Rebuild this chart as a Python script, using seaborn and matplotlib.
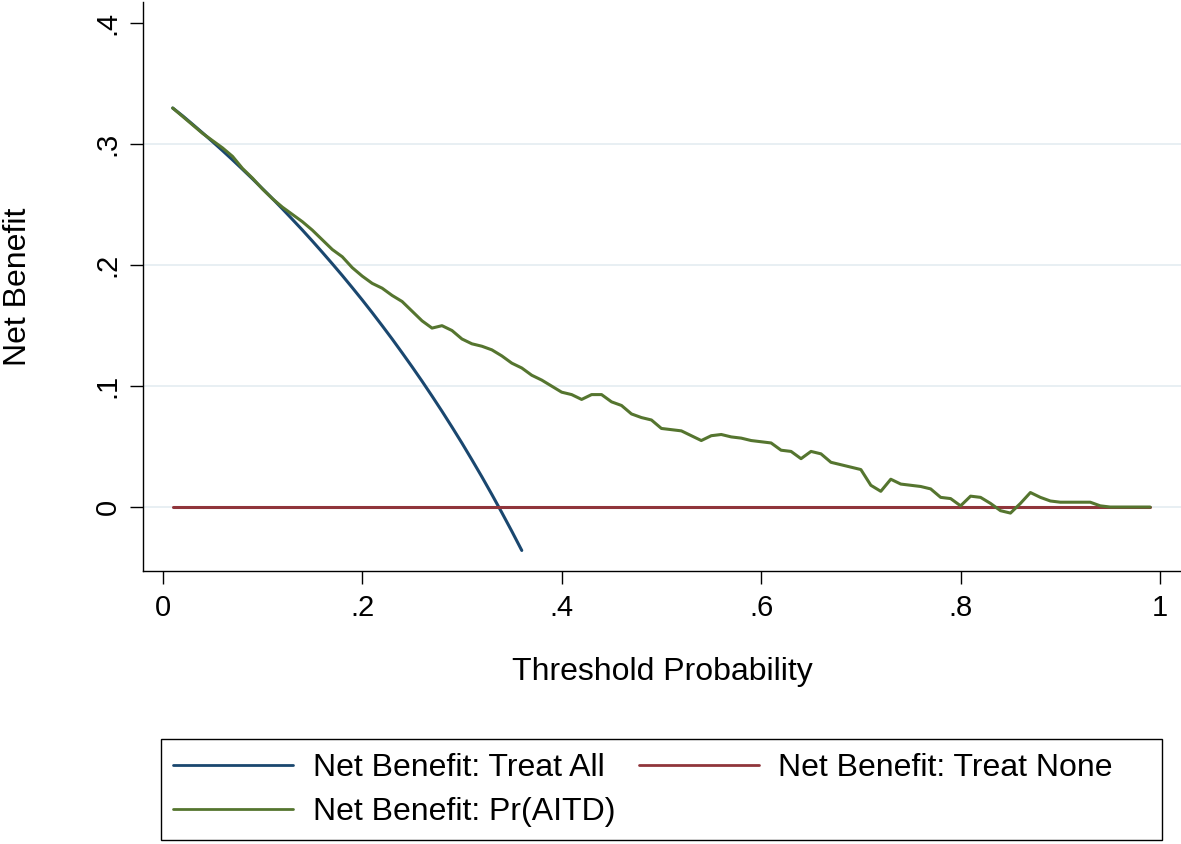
import numpy as np
import pandas as pd
import matplotlib

matplotlib.use("Agg")
import matplotlib.pyplot as plt
import seaborn as sns
from matplotlib.patches import Rectangle

# threshold grid used by the decision curve
threshold = np.arange(1, 100) / 100

# net benefit
treat_all = [
    0.330, 0.3235, 0.3165, 0.3094, 0.3021, 0.2947, 0.2871, 0.2793, 0.2714, 0.2633,
    0.2551, 0.2466, 0.2379, 0.2291, 0.220, 0.2107, 0.2012, 0.1915, 0.1815, 0.1713,
    0.1608, 0.150, 0.1390, 0.1276, 0.116, 0.1041, 0.0918, 0.0792, 0.0662, 0.0529,
    0.0391, 0.025, 0.0104, -0.0046, -0.020, -0.0359,
]
treat_none = [0.0] * 99
pr_aitd = [
    0.330, 0.323, 0.316, 0.309, 0.303, 0.297, 0.290, 0.280, 0.272, 0.263,
    0.255, 0.248, 0.242, 0.236, 0.229, 0.221, 0.213, 0.207, 0.198, 0.191,
    0.185, 0.181, 0.175, 0.170, 0.162, 0.154, 0.148, 0.150, 0.146, 0.139,
    0.135, 0.133, 0.130, 0.125, 0.119, 0.115, 0.109, 0.105, 0.100, 0.095,
    0.093, 0.089, 0.093, 0.093, 0.087, 0.084, 0.077, 0.074, 0.072, 0.065,
    0.064, 0.063, 0.059, 0.055, 0.059, 0.060, 0.058, 0.057, 0.055, 0.054,
    0.053, 0.047, 0.046, 0.040, 0.046, 0.044, 0.037, 0.035, 0.033, 0.031,
    0.018, 0.013, 0.023, 0.019, 0.018, 0.017, 0.015, 0.008, 0.007, 0.001,
    0.009, 0.008, 0.003, -0.003, -0.005, 0.003, 0.012, 0.008, 0.005, 0.004,
    0.004, 0.004, 0.004, 0.001, 0.0, 0.0, 0.0, 0.0, 0.0,
]

x_ticks = [0, 0.2, 0.4, 0.6, 0.8, 1.0]
x_tick_labels = ["0", ".2", ".4", ".6", ".8", "1"]
y_ticks = [0, 0.1, 0.2, 0.3, 0.4]
y_tick_labels = ["0", ".1", ".2", ".3", ".4"]

df_all = pd.DataFrame({"pt": threshold[: len(treat_all)], "nb": treat_all})
df_none = pd.DataFrame({"pt": threshold, "nb": treat_none})
df_model = pd.DataFrame({"pt": threshold, "nb": pr_aitd})

sns.set_style("white")
plt.rcParams["font.family"] = ["Liberation Sans", "DejaVu Sans"]
plt.rcParams["text.color"] = "black"
plt.rcParams["axes.labelcolor"] = "black"
plt.rcParams["xtick.color"] = "black"
plt.rcParams["ytick.color"] = "black"

W, H = 1181, 844
fig = plt.figure(figsize=(W / 100, H / 100), dpi=100)
ax = fig.add_axes([143.3 / W, 1 - 571 / H, 1 - 143.3 / W, 569 / H])

grid_col = "#e6eef2"
for y in [0, 0.1, 0.2, 0.3]:
    ax.axhline(y, color=grid_col, lw=1.3, zorder=0)

sns.lineplot(data=df_all, x="pt", y="nb", ax=ax, color="#1a476f", lw=2.2,
             label="Net Benefit: Treat All")
sns.lineplot(data=df_none, x="pt", y="nb", ax=ax, color="#90353b", lw=2.2,
             label="Net Benefit: Treat None")
sns.lineplot(data=df_model, x="pt", y="nb", ax=ax, color="#55752f", lw=2.2,
             label="Net Benefit: Pr(AITD)")

ax.set_xlim(-0.0195, 1.021)
ax.set_ylim(-0.0529, 0.4177)
ax.set_xticks(x_ticks)
ax.set_xticklabels(x_tick_labels)
ax.set_yticks(y_ticks)
ax.set_yticklabels(y_tick_labels, rotation=90, va="center")
ax.tick_params(axis="both", direction="out", length=9.5, width=1.0, color="black",
               labelsize=21, labelcolor="black", left=True, bottom=True)
ax.tick_params(axis="x", pad=7)
ax.tick_params(axis="y", pad=6)

for side in ["top", "right"]:
    ax.spines[side].set_visible(False)
for side in ["left", "bottom"]:
    ax.spines[side].set_color("black")
    ax.spines[side].set_linewidth(1.0)

ax.set_xlabel("Threshold Probability", fontsize=23, labelpad=25)
ax.set_ylabel("Net Benefit", fontsize=23, labelpad=44)

# legend box drawn by hand so the padding can match
fig.patches.append(Rectangle((161 / W, 1 - 840 / H), 1001 / W, 101 / H,
                             transform=fig.transFigure, fill=False,
                             edgecolor="black", lw=1.0))

handles, labels = ax.get_legend_handles_labels()
ax.get_legend().remove()
order = [0, 2, 1]
leg = fig.legend(
    [handles[i] for i in order], [labels[i] for i in order],
    ncol=2, loc="center left",
    bbox_to_anchor=(161 / W, 1 - 790 / H),
    fontsize=23, frameon=False,
    handlelength=3.75, handletextpad=0.62, borderpad=0.38, labelspacing=0.43,
    columnspacing=0.74, borderaxespad=0,
)
for line in leg.get_lines():
    line.set_linewidth(2.0)

plt.savefig("out.png", dpi=100)
plt.close()
